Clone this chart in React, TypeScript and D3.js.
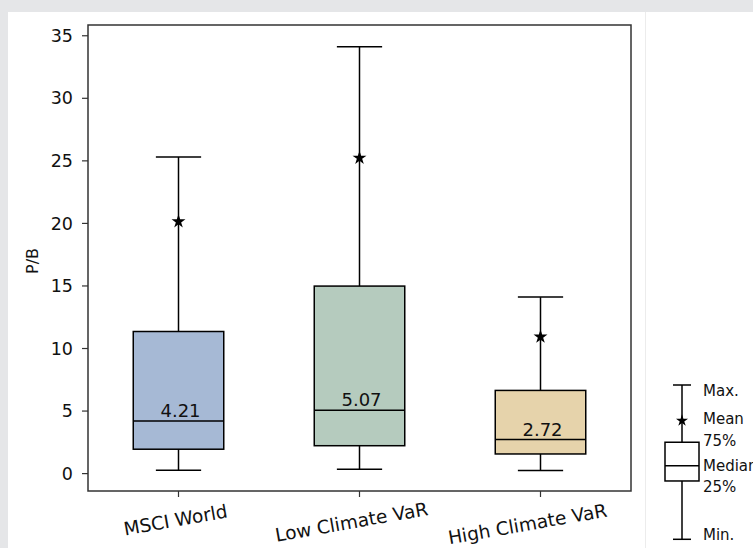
import React from "react";
import * as d3 from "d3";

// Price-to-book distribution per portfolio
const categories = ["MSCI World", "Low Climate VaR", "High Climate VaR"];
const mins = [0.27, 0.35, 0.24];
const q1s = [1.95, 2.23, 1.57];
const medians = [4.21, 5.07, 2.72];
const q3s = [11.36, 14.99, 6.65];
const maxs = [25.31, 34.13, 14.11];
const means = [20.15, 25.23, 10.93];
const boxColors = ["#a6b9d5", "#b5cbbe", "#e6d3ab"];
const yTicks = [0, 5, 10, 15, 20, 25, 30, 35];

// Key schematic (relative positions of each statistic)
const keyLabels = ["Min.", "25%", "Median", "75%", "Mean", "Max."];
const keyValues = [0, 0.378, 0.477, 0.629, 0.769, 1];
const keyLabelNudge = [-4, 6, 0, -1, -2, 6];

const W = 753;
const H = 548;
const FONT = "DejaVu Sans, sans-serif";
const plot = { left: 88, right: 631, top: 25, bottom: 491 };

export default function App() {
  const x = d3.scaleLinear().domain([0.5, 3.5]).range([plot.left, plot.right]);
  const y = d3.scaleLinear().domain([-1.39, 35.86]).range([plot.bottom, plot.top]);
  const boxHalf = x(1.25) - x(1);
  const capHalf = x(1.125) - x(1);
  const star = d3.symbol().type(d3.symbolStar).size(60)() as string;

  const kx = 682;
  const ky = d3.scaleLinear().domain([0, 1]).range([539.3, 385]);
  const kv = (name: string) => keyValues[keyLabels.indexOf(name)];

  return (
    <div style={{ position: "absolute", left: 0, top: 0, width: W, height: H }}>
      <svg width={W} height={H} style={{ display: "block" }} fontFamily={FONT}>
        <rect x={0} y={0} width={W} height={H} fill="#ffffff" />
        <rect x={0} y={0} width={W} height={12} fill="#e5e6e8" />
        <rect x={0} y={0} width={8} height={H} fill="#e5e6e8" />
        <line x1={645.5} x2={645.5} y1={12} y2={H} stroke="#ececec" strokeWidth={1} />

        {/* boxes */}
        {categories.map((c, i) => {
          const cx = x(i + 1);
          return (
            <g key={c}>
              <line x1={cx} x2={cx} y1={y(q3s[i])} y2={y(maxs[i])} stroke="#000" strokeWidth={1.5} />
              <line x1={cx} x2={cx} y1={y(q1s[i])} y2={y(mins[i])} stroke="#000" strokeWidth={1.5} />
              <line x1={cx - capHalf} x2={cx + capHalf} y1={y(maxs[i])} y2={y(maxs[i])} stroke="#000" strokeWidth={1.5} />
              <line x1={cx - capHalf} x2={cx + capHalf} y1={y(mins[i])} y2={y(mins[i])} stroke="#000" strokeWidth={1.5} />
              <rect
                x={cx - boxHalf}
                y={y(q3s[i])}
                width={boxHalf * 2}
                height={y(q1s[i]) - y(q3s[i])}
                fill={boxColors[i]}
                stroke="#000"
                strokeWidth={1.5}
              />
              <line x1={cx - boxHalf} x2={cx + boxHalf} y1={y(medians[i])} y2={y(medians[i])} stroke="#000" strokeWidth={1.5} />
              <path d={star} transform={`translate(${cx},${y(means[i])})`} fill="#000" />
              <text x={cx + 2} y={y(medians[i]) - 4} textAnchor="middle" fontSize={18} fill="#111">
                {medians[i].toFixed(2)}
              </text>
            </g>
          );
        })}

        {/* frame */}
        <rect
          x={plot.left}
          y={plot.top}
          width={plot.right - plot.left}
          height={plot.bottom - plot.top}
          fill="none"
          stroke="#333"
          strokeWidth={1.5}
        />

        {/* y axis */}
        {yTicks.map((t) => (
          <g key={t}>
            <line x1={plot.left - 6} x2={plot.left} y1={y(t)} y2={y(t)} stroke="#333" strokeWidth={1.2} />
            <text x={plot.left - 15} y={y(t)} dy="0.35em" textAnchor="end" fontSize={17.5} fill="#111">
              {t}
            </text>
          </g>
        ))}
        <text
          transform={`translate(32,261) rotate(-90)`}
          textAnchor="middle"
          dominantBaseline="central"
          fontSize={16}
          fill="#111"
        >
          P/B
        </text>

        {/* x axis */}
        {categories.map((c, i) => {
          const cx = x(i + 1);
          return (
            <g key={c}>
              <line x1={cx} x2={cx} y1={plot.bottom} y2={plot.bottom + 6} stroke="#333" strokeWidth={1.2} />
              <text
                transform={`translate(${cx - 3 - 5 * i},${plot.bottom + 29 + 2 * i}) rotate(-10)`}
                textAnchor="middle"
                dominantBaseline="central"
                fontSize={18.5}
                fill="#111"
              >
                {c}
              </text>
            </g>
          );
        })}

        {/* key */}
        <g>
          <line x1={kx} x2={kx} y1={ky(kv("Max."))} y2={ky(kv("75%"))} stroke="#000" strokeWidth={1.5} />
          <line x1={kx} x2={kx} y1={ky(kv("25%"))} y2={ky(kv("Min."))} stroke="#000" strokeWidth={1.5} />
          <line x1={kx - 9} x2={kx + 9} y1={ky(kv("Max."))} y2={ky(kv("Max."))} stroke="#000" strokeWidth={1.5} />
          <line x1={kx - 9} x2={kx + 9} y1={ky(kv("Min."))} y2={ky(kv("Min."))} stroke="#000" strokeWidth={1.5} />
          <rect
            x={kx - 17}
            y={ky(kv("75%"))}
            width={34}
            height={ky(kv("25%")) - ky(kv("75%"))}
            fill="#fff"
            stroke="#000"
            strokeWidth={1.5}
          />
          <line x1={kx - 17} x2={kx + 17} y1={ky(kv("Median"))} y2={ky(kv("Median"))} stroke="#000" strokeWidth={1.5} />
          <path d={d3.symbol().type(d3.symbolStar).size(45)() as string} transform={`translate(${kx},${ky(kv("Mean"))})`} fill="#000" />
          {keyLabels.map((l, i) => (
            <text
              key={l}
              x={703}
              y={ky(keyValues[i]) + keyLabelNudge[i]}
              dominantBaseline="central"
              fontSize={15}
              fill="#111"
            >
              {l}
            </text>
          ))}
        </g>
      </svg>
    </div>
  );
}
